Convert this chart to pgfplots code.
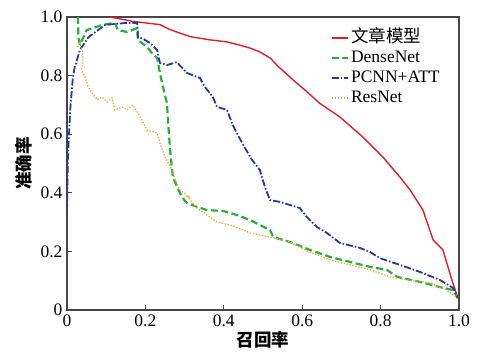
\documentclass[border=0pt]{standalone}
\usepackage{pgfplots}
\pgfplotsset{compat=1.18}
\usepackage{fontspec}
\setmainfont{Liberation Serif}
\newfontfamily\cjk{Noto Sans CJK SC}
\definecolor{cred}{RGB}{222,30,45}
\definecolor{cgreen}{RGB}{40,175,60}
\definecolor{cblue}{RGB}{35,55,165}
\definecolor{corange}{RGB}{240,170,50}
\definecolor{caxis}{RGB}{70,70,70}
\begin{document}
\begin{tikzpicture}
\path[use as bounding box] (-67pt,-42pt) rectangle (411pt,310pt);
\begin{axis}[
  at={(0,0)}, anchor=south west,
  scale only axis, width=392pt, height=293pt,
  xmin=0, xmax=1, ymin=0, ymax=1,
  xtick={0,0.2,0.4,0.6,0.8,1}, xticklabels={0,0.2,0.4,0.6,0.8,1.0},
  ytick={0,0.2,0.4,0.6,0.8,1}, yticklabels={0,0.2,0.4,0.6,0.8,1.0},
  xtick pos=bottom, ytick pos=left, tick align=inside,
  major tick length=5pt,
  tick style={caxis, line width=1pt},
  axis line style={caxis, line width=1.2pt},
  /pgf/number format/assume math mode=true,
  tick label style={font=\fontsize{17.5}{21}\selectfont},
  xticklabel style={yshift=-1pt},
  yticklabel style={xshift=-1pt},
  xlabel={\cjk\bfseries 召回率}, ylabel={\cjk\bfseries 准确率},
  label style={font=\fontsize{17.5}{21}\selectfont},
  xlabel style={yshift=2pt},
  ylabel style={yshift=2pt},
  legend style={draw=none, fill=none, at={(0.67,0.965)}, anchor=north west,
    font=\fontsize{17.5}{21}\selectfont, row sep=1pt, inner sep=1pt,
    nodes={text height=12pt, text depth=3pt}},
  legend cell align=left,
  legend image code/.code={\draw[#1] plot coordinates {(0pt,0pt) (8pt,0pt) (16pt,0pt)};},
  clip=true,
]
% 文章模型
\addplot[cred, line width=1.4pt] coordinates {
(0.11,1.0) (0.168,0.985) (0.237,0.974) (0.263,0.957) (0.288,0.945) (0.314,0.933)
(0.365,0.922) (0.408,0.915) (0.441,0.904) (0.467,0.894) (0.492,0.881) (0.518,0.860)
(0.543,0.826) (0.577,0.785) (0.612,0.745) (0.645,0.705) (0.696,0.659) (0.755,0.590)
(0.806,0.522) (0.849,0.454) (0.875,0.410) (0.908,0.341) (0.934,0.239) (0.959,0.205)
(0.982,0.102) (0.997,0.041)};
\addlegendentry{\cjk 文章模型}
% DenseNet
\addplot[cgreen, line width=2.2pt, dash pattern=on 7pt off 3.5pt] coordinates {
(0.028,1.0) (0.029,0.93) (0.033,0.905) (0.05,0.955) (0.09,0.973) (0.122,0.98)
(0.13,0.955) (0.153,0.949) (0.179,0.962) (0.181,0.921) (0.204,0.898) (0.217,0.877)
(0.23,0.86) (0.237,0.809) (0.245,0.761) (0.255,0.706) (0.258,0.64) (0.263,0.546)
(0.27,0.454) (0.281,0.42) (0.293,0.386) (0.306,0.365) (0.332,0.352) (0.357,0.341)
(0.398,0.338) (0.434,0.324) (0.467,0.307) (0.492,0.29) (0.518,0.273) (0.526,0.249)
(0.569,0.232) (0.62,0.205) (0.671,0.181) (0.722,0.164) (0.773,0.147) (0.816,0.137)
(0.842,0.113) (0.9,0.096) (0.952,0.078) (0.985,0.068) (0.997,0.04)};
\addlegendentry{DenseNet}
% PCNN+ATT
\addplot[cblue, line width=1.8pt, dash pattern=on 7pt off 2pt on 1.5pt off 2pt] coordinates {
(0.0,0.34) (0.002,0.51) (0.008,0.68) (0.015,0.795) (0.02,0.83) (0.033,0.887)
(0.054,0.93) (0.097,0.973) (0.153,0.98) (0.179,0.98) (0.181,0.932) (0.195,0.925)
(0.212,0.911) (0.23,0.887) (0.237,0.843) (0.255,0.836) (0.28,0.846) (0.306,0.809)
(0.339,0.792) (0.352,0.761) (0.372,0.727) (0.383,0.693) (0.408,0.683) (0.421,0.638)
(0.429,0.614) (0.454,0.553) (0.472,0.512) (0.492,0.478) (0.505,0.42) (0.518,0.375)
(0.543,0.369) (0.594,0.348) (0.612,0.317) (0.638,0.283) (0.663,0.263) (0.696,0.229)
(0.747,0.212) (0.773,0.198) (0.798,0.177) (0.849,0.154) (0.9,0.13) (0.952,0.102)
(0.985,0.075) (0.997,0.04)};
\addlegendentry{PCNN+ATT}
% ResNet
\addplot[corange, line width=1.3pt, dash pattern=on 1.3pt off 1.7pt] coordinates {
(0.028,0.898) (0.033,0.911) (0.041,0.877) (0.038,0.819) (0.046,0.795) (0.054,0.761)
(0.064,0.741) (0.077,0.717) (0.089,0.727) (0.102,0.71) (0.115,0.724) (0.122,0.683)
(0.14,0.693) (0.153,0.683) (0.168,0.70) (0.181,0.672) (0.191,0.648) (0.204,0.614)
(0.23,0.604) (0.237,0.57) (0.25,0.522) (0.268,0.478) (0.276,0.444) (0.288,0.41)
(0.314,0.382) (0.305,0.39) (0.332,0.348) (0.357,0.324) (0.383,0.30) (0.416,0.29)
(0.449,0.273) (0.467,0.263) (0.492,0.256) (0.518,0.249) (0.569,0.232) (0.62,0.198)
(0.671,0.171) (0.722,0.154) (0.773,0.137) (0.824,0.113) (0.875,0.102) (0.926,0.092)
(0.969,0.068) (0.997,0.04)};
\addlegendentry{ResNet}
\end{axis}
\end{tikzpicture}
\end{document}
